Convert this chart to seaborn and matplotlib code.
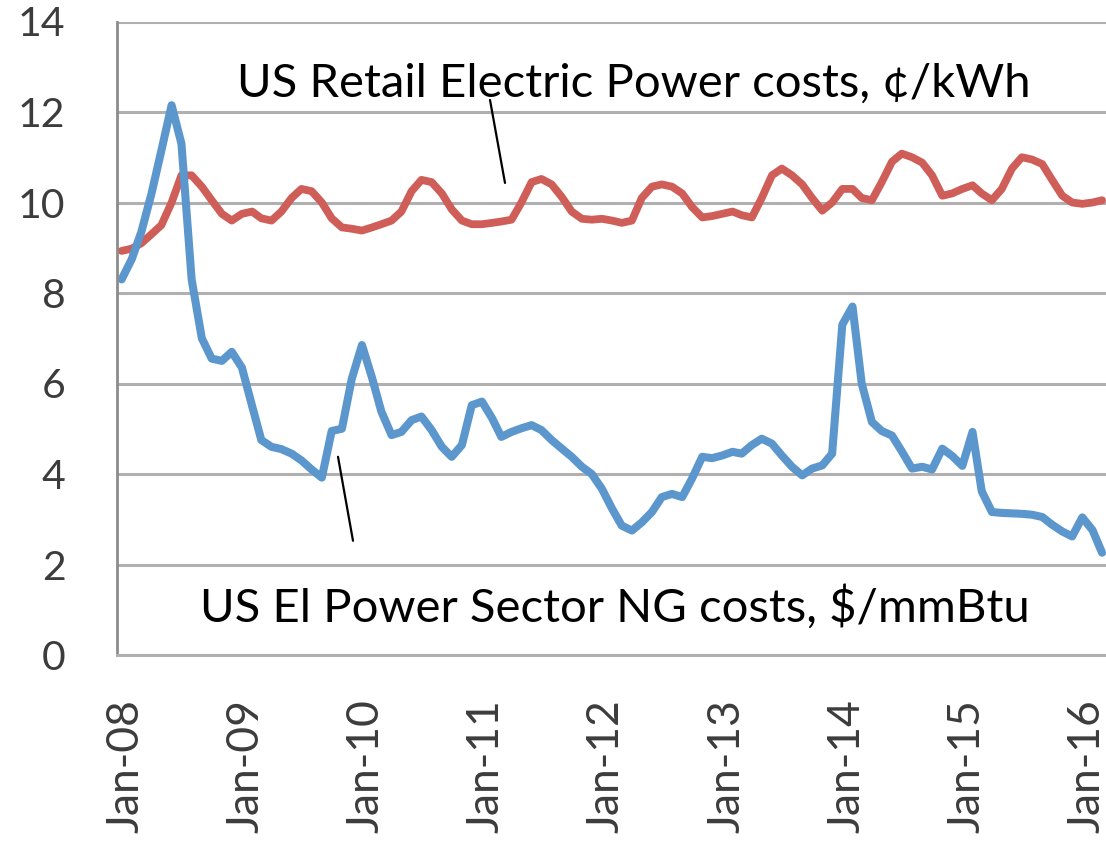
import numpy as np
import pandas as pd
import matplotlib
matplotlib.use("Agg")
import matplotlib.pyplot as plt
import matplotlib.dates as mdates
from matplotlib.transforms import ScaledTranslation
import seaborn as sns

# monthly values, Jan-2008 .. Mar-2016 (plotted mid-month)
ng_cost = [
    8.30, 8.75, 9.35, 10.20, 11.15, 12.15, 11.30, 8.30, 7.00, 6.55, 6.50, 6.70,
    6.35, 5.50, 4.75, 4.60, 4.55, 4.45, 4.30, 4.10, 3.92, 4.95, 5.00, 6.10,
    6.85, 6.12, 5.38, 4.86, 4.93, 5.19, 5.27, 4.97, 4.60, 4.38, 4.64, 5.52,
    5.60, 5.23, 4.82, 4.93, 5.01, 5.08, 4.97, 4.75, 4.56, 4.38, 4.16, 4.00,
    3.67, 3.23, 2.86, 2.75, 2.93, 3.16, 3.49, 3.56, 3.49, 3.90, 4.38, 4.35,
    4.41, 4.49, 4.45, 4.64, 4.78, 4.67, 4.41, 4.16, 3.97, 4.12, 4.19, 4.45,
    7.30, 7.70, 6.00, 5.15, 4.95, 4.85, 4.50, 4.12, 4.16, 4.10, 4.56, 4.40,
    4.18, 4.93, 3.62, 3.16, 3.14, 3.13, 3.12, 3.10, 3.05, 2.88, 2.73, 2.62,
    3.04, 2.76, 2.26,
]
retail_cost = [
    8.93, 8.98, 9.10, 9.30, 9.50, 10.00, 10.60, 10.60, 10.35, 10.05, 9.75, 9.60,
    9.75, 9.80, 9.65, 9.60, 9.80, 10.10, 10.30, 10.25, 10.00, 9.65, 9.45, 9.42,
    9.38, 9.45, 9.52, 9.60, 9.80, 10.25, 10.50, 10.45, 10.20, 9.85, 9.60, 9.52,
    9.52, 9.55, 9.58, 9.62, 10.00, 10.45, 10.52, 10.40, 10.12, 9.80, 9.64, 9.62,
    9.64, 9.60, 9.55, 9.60, 10.10, 10.35, 10.40, 10.35, 10.20, 9.90, 9.67, 9.70,
    9.75, 9.80, 9.72, 9.67, 10.10, 10.60, 10.75, 10.60, 10.40, 10.10, 9.82, 10.00,
    10.30, 10.30, 10.10, 10.05, 10.45, 10.90, 11.08, 11.00, 10.88, 10.60, 10.15, 10.20,
    10.30, 10.38, 10.20, 10.05, 10.30, 10.75, 11.00, 10.95, 10.85, 10.50, 10.15, 10.00,
    9.97, 10.00, 10.05,
]
months = pd.date_range("2008-01-01", periods=len(ng_cost), freq="MS") + pd.Timedelta(days=14)

df = pd.DataFrame({"date": months, "ng": ng_cost, "retail": retail_cost})

label_retail = "US Retail Electric Power costs, \u00a2/kWh"
label_ng = "US El Power Sector NG costs, $/mmBtu"

sns.set_style("white")
plt.rcParams["font.family"] = ["Lato", "DejaVu Sans"]

fig = plt.figure(figsize=(11.06, 8.48), dpi=100)
ax = fig.add_axes([117 / 1106, 1 - 655 / 848, 1 - 117 / 1106, (655 - 21.5) / 848])

grid_c = "#b0b0b0"
ax.set_ylim(0, 14)
ax.set_yticks(range(0, 15, 2))
ax.yaxis.grid(True, color=grid_c, linewidth=2.2)
ax.set_axisbelow(True)

sns.lineplot(data=df, x="date", y="retail", ax=ax, color="#cf5d58", linewidth=5.6)
sns.lineplot(data=df, x="date", y="ng", ax=ax, color="#5b96cd", linewidth=5.8)

ax.set_xlim(pd.Timestamp("2008-01-01"), pd.Timestamp("2016-03-27"))
ax.xaxis.set_major_locator(mdates.YearLocator())
ax.xaxis.set_major_formatter(mdates.DateFormatter("%b-%y"))

for side in ["top", "right"]:
    ax.spines[side].set_visible(False)
ax.spines["left"].set_color("#8c8c8c")
ax.spines["left"].set_linewidth(2)
ax.spines["bottom"].set_color(grid_c)
ax.spines["bottom"].set_linewidth(2.2)

ax.tick_params(axis="y", length=12, width=2.2, color=grid_c, pad=25,
               labelsize=29.5, labelcolor="#3c3c3c")
ax.tick_params(axis="x", length=12, width=1.5, color="#8c8c8c", pad=20,
               labelsize=32, labelcolor="#3c3c3c", labelrotation=90)
shift = ScaledTranslation(9 / 100, 0, fig.dpi_scale_trans)
for lab in ax.get_xticklabels():
    lab.set_transform(lab.get_transform() + shift)

ax.set_xlabel("")
ax.set_ylabel("")

# annotations (axes fractions)
def fx(px):
    return (px - 117) / 989

def fy(py):
    return (655.3 - py) / 633.8

ax.text(fx(237), fy(97), label_retail, transform=ax.transAxes,
        fontsize=34, color="black", va="baseline", ha="left")
ax.text(fx(200), fy(622), label_ng, transform=ax.transAxes,
        fontsize=34, color="black", va="baseline", ha="left")
ax.annotate("", xy=(fx(505), fy(183)), xytext=(fx(490), fy(100)),
            xycoords="axes fraction", textcoords="axes fraction",
            arrowprops=dict(arrowstyle="-", color="black", lw=1.6,
                            shrinkA=0, shrinkB=0))
ax.annotate("", xy=(fx(353), fy(541)), xytext=(fx(338), fy(457)),
            xycoords="axes fraction", textcoords="axes fraction",
            arrowprops=dict(arrowstyle="-", color="black", lw=1.6,
                            shrinkA=0, shrinkB=0))

fig.savefig("out.png", dpi=100)
